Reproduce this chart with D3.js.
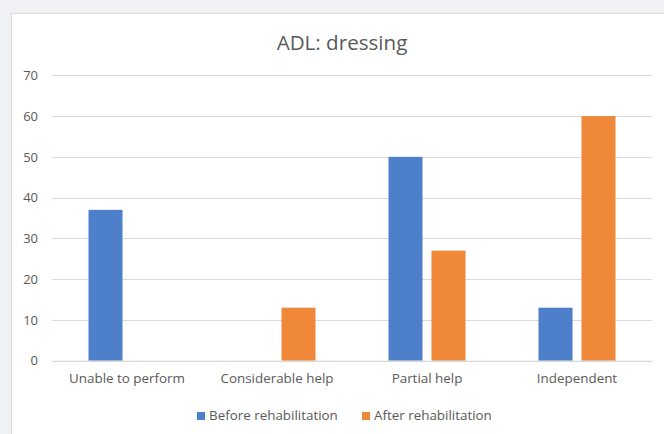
<!DOCTYPE html>
<html><head><meta charset="utf-8">
<script src="https://cdn.jsdelivr.net/npm/d3@7/dist/d3.min.js"></script>
<style>
html,body{margin:0;padding:0;background:#eff1f4;}
svg{display:block;}
text{font-family:"Open Sans",sans-serif;fill:#595959;}
</style></head>
<body>
<svg id="chart" width="664" height="434"></svg>
<script>
const categories = ["Unable to perform", "Considerable help", "Partial help", "Independent"];
const seriesNames = ["Before rehabilitation", "After rehabilitation"];
const beforeValues = [37, 0, 50, 13];
const afterValues = [0, 13, 27, 60];
const yTicks = [0, 10, 20, 30, 40, 50, 60, 70];
const colors = ["#4e7fcb", "#f0883a"];

const svg = d3.select("#chart");
svg.append("rect").attr("x", 11.5).attr("y", 13.5).attr("width", 700).attr("height", 460)
  .attr("fill", "#fff").attr("stroke", "#d9d9d9");

const plotL = 52, plotR = 652, plotT = 75.3, plotB = 360.7;
const x = d3.scaleBand().domain(categories).range([plotL, plotR]).paddingInner(0).paddingOuter(0);
const x1 = d3.scaleBand().domain(seriesNames).range([0, x.bandwidth()]).paddingInner(0.209).paddingOuter(0.849);
const y = d3.scaleLinear().domain([0, 70]).range([plotB, plotT]);

// gridlines
svg.append("g").selectAll("line").data(yTicks).join("line")
  .attr("x1", plotL).attr("x2", plotR)
  .attr("y1", d => Math.round(y(d)) + 0.5).attr("y2", d => Math.round(y(d)) + 0.5)
  .attr("stroke", "#d9d9d9").attr("stroke-width", 1);

// y axis labels
const yAxis = d3.axisLeft(y).tickValues(yTicks).tickSize(0).tickPadding(0);
const ga = svg.append("g").attr("transform", `translate(38,0)`).call(yAxis);
ga.select(".domain").remove();
ga.selectAll("text").style("font-family", '"Open Sans",sans-serif').attr("font-size", 13).attr("fill", "#595959");

// bars
const data = categories.map((c, i) => ({cat: c, vals: [beforeValues[i], afterValues[i]]}));
const groups = svg.append("g").selectAll("g").data(data).join("g")
  .attr("transform", d => `translate(${x(d.cat)},0)`);
groups.selectAll("rect").data(d => d.vals.map((v, j) => ({s: seriesNames[j], v, j})).filter(e => e.v > 0))
  .join("rect")
  .attr("x", d => x1(d.s)).attr("width", x1.bandwidth())
  .attr("y", d => y(d.v)).attr("height", d => y(0) - y(d.v))
  .attr("fill", d => colors[d.j]);

// x axis
const xAxis = d3.axisBottom(x).tickSize(0).tickPadding(0);
const gx = svg.append("g").attr("transform", `translate(0,${plotB})`).call(xAxis);
gx.select(".domain").attr("stroke", "#d9d9d9");
gx.selectAll("text").style("font-family", '"Open Sans",sans-serif').attr("font-size", 13.4)
  .attr("fill", "#595959").attr("y", 22.5).attr("dy", null);

// title
svg.append("text").attr("x", 342).attr("y", 50).attr("text-anchor", "middle")
  .attr("font-size", 20.6).text("ADL: dressing");

// legend
const legendX = [197, 362];
const lg = svg.append("g").selectAll("g").data(seriesNames).join("g")
  .attr("transform", (d, i) => `translate(${legendX[i]},420)`);
lg.append("rect").attr("y", -8).attr("width", 8).attr("height", 8).attr("fill", (d, i) => colors[i]);
lg.append("text").attr("x", 12).attr("y", 0).attr("font-size", 13.4).text(d => d);
</script>
</body></html>
